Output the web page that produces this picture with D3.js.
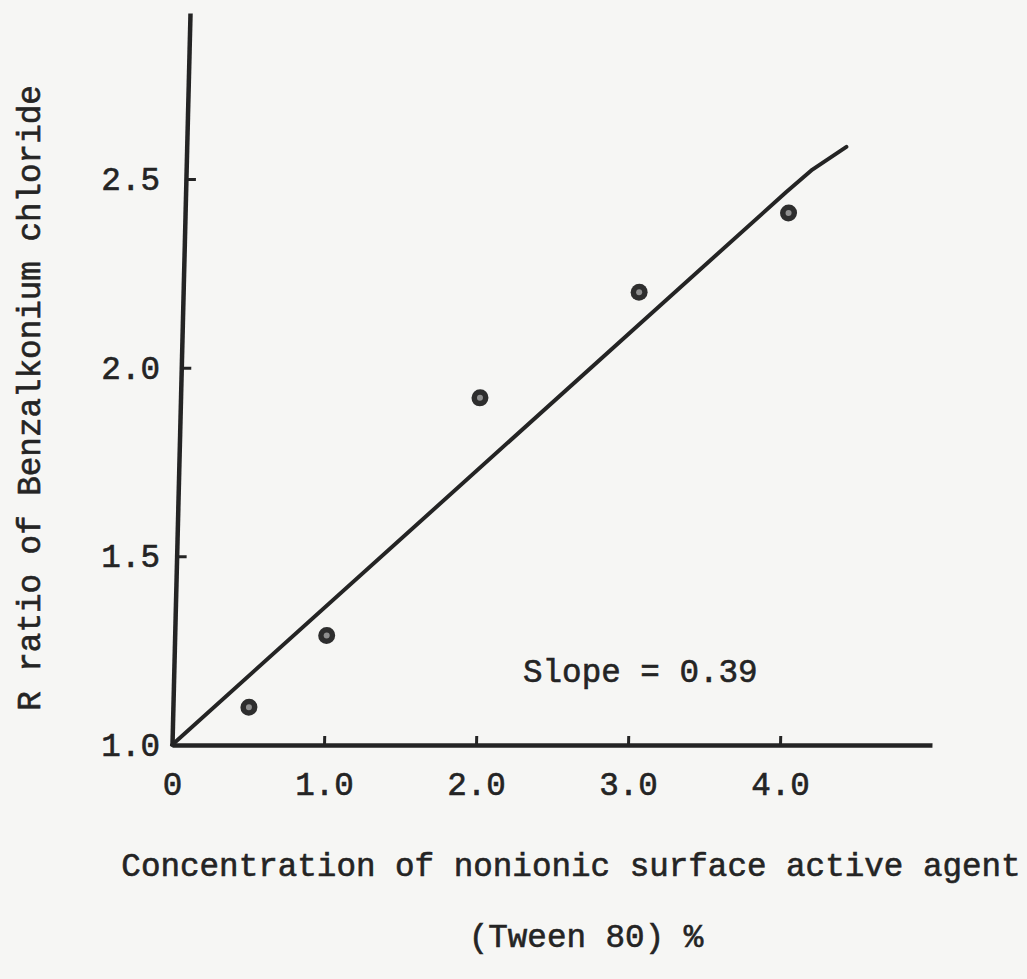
<!DOCTYPE html>
<html>
<head>
<meta charset="utf-8">
<script src="https://cdn.jsdelivr.net/npm/d3@7"></script>
<style>
  html, body { margin: 0; padding: 0; background: #f6f6f4; }
  svg { display: block; }
  text { font-family: "Liberation Mono", "DejaVu Sans Mono", monospace; fill: #242424; stroke: #242424; stroke-width: 0.6px; }
</style>
</head>
<body>
<script>
// ---- data ----
const concentration = [0.5, 1.0, 1.97, 3.0, 3.97];        // Tween 80 %
const rRatio        = [1.10, 1.29, 1.92, 2.20, 2.41];     // R ratio of Benzalkonium chloride
const fitX          = [0, 3.95, 4.12, 4.34];              // drawn regression line
const fitY          = [1.0, 2.465, 2.525, 2.585];
const xTicks        = [0, 1, 2, 3, 4];
const xTickLabels   = ["0", "1.0", "2.0", "3.0", "4.0"];
const yTicks        = [1.0, 1.5, 2.0, 2.5];
const yTickLabels   = ["1.0", "1.5", "2.0", "2.5"];
const slopeLabel    = "Slope = 0.39";
const xTitle        = ["Concentration of nonionic surface active agent", "(Tween 80) %"];
const yTitle        = "R ratio of Benzalkonium chloride";

// ---- layout ----
const W = 1027, H = 979;
const ox = 172, oy = 745;
const FS = 32.6;
const svg = d3.select("body").append("svg").attr("width", W).attr("height", H);
svg.append("rect").attr("width", W).attr("height", H).attr("fill", "#f6f6f4");

const x = d3.scaleLinear().domain([0, 5]).range([0, 760]);
const y = d3.scaleLinear().domain([1, 2.94]).range([0, -732]);

const ink = "#242424";

// skewed plot group (scan is slightly sheared)
const g = svg.append("g").attr("transform", `translate(${ox},${oy}) skewX(-1.41)`);

// x axis line + inward ticks
const xAxisLine = g.append("g").call(
  d3.axisBottom(x).tickValues(xTicks.slice(1)).tickSizeInner(-9).tickSizeOuter(0).tickFormat(""));
xAxisLine.select(".domain").attr("stroke", ink).attr("stroke-width", 4.5);
xAxisLine.selectAll(".tick line").attr("stroke", ink).attr("stroke-width", 3);

// y axis line + inward ticks
const yAxisLine = g.append("g").call(
  d3.axisRight(y).tickValues(yTicks.slice(1)).tickSizeInner(10).tickSizeOuter(0).tickFormat(""));
yAxisLine.select(".domain").attr("stroke", ink).attr("stroke-width", 4.5);
yAxisLine.selectAll(".tick line").attr("stroke", ink).attr("stroke-width", 3);

// fit line
const fit = fitX.map((v, i) => [v, fitY[i]]);
g.append("path")
  .datum(fit)
  .attr("d", d3.line().x(d => x(d[0])).y(d => y(d[1])))
  .attr("fill", "none").attr("stroke", ink).attr("stroke-width", 4)
  .attr("stroke-linecap", "round").attr("stroke-linejoin", "round");

// points
const pts = concentration.map((v, i) => ({x: v, y: rRatio[i]}));
g.selectAll("circle.pt").data(pts).join("circle").attr("class", "pt")
  .attr("cx", d => x(d.x)).attr("cy", d => y(d.y)).attr("r", 8.5).attr("fill", "#2e2e2e");
g.selectAll("circle.pc").data(pts).join("circle").attr("class", "pc")
  .attr("cx", d => x(d.x)).attr("cy", d => y(d.y)).attr("r", 3).attr("fill", "#8f8f8f");

// tick labels (not sheared)
const lab = svg.append("g").attr("transform", `translate(${ox},${oy})`);
const xl = lab.append("g").call(
  d3.axisBottom(x).tickValues(xTicks).tickSize(0).tickPadding(27)
    .tickFormat((d, i) => xTickLabels[i]));
xl.select(".domain").remove();
xl.selectAll("text").attr("font-size", FS).attr("font-family", null).attr("fill", ink);

const yl = lab.append("g").call(
  d3.axisLeft(y).tickValues(yTicks).tickSize(0).tickPadding(12)
    .tickFormat((d, i) => yTickLabels[i]));
yl.select(".domain").remove();
yl.selectAll("text").attr("font-size", FS).attr("font-family", null).attr("fill", ink);

// slope annotation
svg.append("text").attr("x", 523).attr("y", 682).attr("font-size", FS).text(slopeLabel);

// x title
svg.append("text").attr("x", 571).attr("y", 876).attr("text-anchor", "middle")
  .attr("font-size", FS).text(xTitle[0]);
svg.append("text").attr("x", 586).attr("y", 947).attr("text-anchor", "middle")
  .attr("font-size", FS).text(xTitle[1]);

// y title
svg.append("text").attr("transform", "translate(40,398) rotate(-90)")
  .attr("text-anchor", "middle").attr("font-size", FS).text(yTitle);
</script>
</body>
</html>
